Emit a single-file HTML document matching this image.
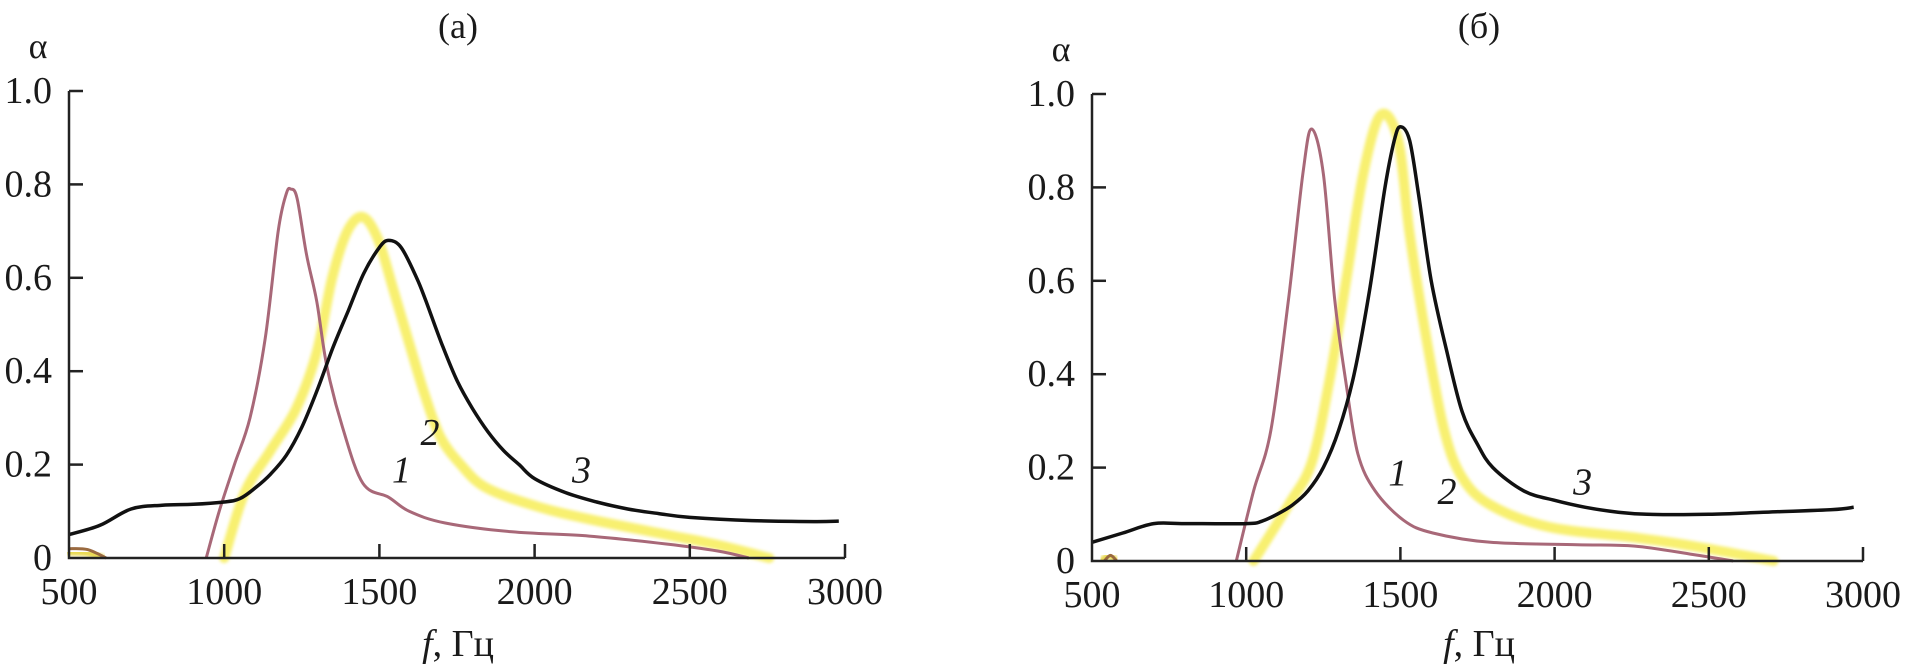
<!DOCTYPE html>
<html><head><meta charset="utf-8">
<style>
html,body{margin:0;padding:0;background:#fff;}
svg{display:block;}
text{font-family:"Liberation Serif",serif;fill:#1a1a1a;}
</style></head>
<body>
<svg id="s" width="1905" height="671" viewBox="0 0 1905 671" xmlns="http://www.w3.org/2000/svg">
<defs><filter id="bl" x="-5%" y="-5%" width="110%" height="110%"><feGaussianBlur stdDeviation="1.6"/></filter></defs>
<g id="g"></g>
</svg>
<script>
var NS="http://www.w3.org/2000/svg",g=document.getElementById('g');
function el(t,a,txt){var e=document.createElementNS(NS,t);for(var k in a)e.setAttribute(k,a[k]);if(txt!==undefined)e.textContent=txt;g.appendChild(e);return e;}
function panel(P){
 var X=function(f){return P.x0+(f-500)*(P.x1-P.x0)/2500;};
 var Y=function(a){return P.y0-a*(P.y0-P.y1);};
 function path(d){var pts=d.map(function(p){return [X(p[0]),Y(p[1])];});
  var s="M"+pts[0][0].toFixed(1)+","+pts[0][1].toFixed(1);
  for(var i=0;i<pts.length-1;i++){var p0=pts[Math.max(0,i-1)],p1=pts[i],p2=pts[i+1],p3=pts[Math.min(pts.length-1,i+2)];
   var c1x=p1[0]+(p2[0]-p0[0])/6,c1y=p1[1]+(p2[1]-p0[1])/6,c2x=p2[0]-(p3[0]-p1[0])/6,c2y=p2[1]-(p3[1]-p1[1])/6;
   s+="C"+c1x.toFixed(1)+","+c1y.toFixed(1)+" "+c2x.toFixed(1)+","+c2y.toFixed(1)+" "+p2[0].toFixed(1)+","+p2[1].toFixed(1);}
  return s;}
 el('path',{d:path(P.c2),fill:'none',stroke:'#f8f070',"stroke-width":10,"stroke-linejoin":"round","stroke-linecap":"round",filter:"url(#bl)"});
 el('path',{d:path(P.c2b),fill:'none',stroke:'#e8d84a',"stroke-width":6,"stroke-linecap":"round",filter:"url(#bl)"});
 el('path',{d:path(P.c1),fill:'none',stroke:'#a86878',"stroke-width":3,"stroke-linejoin":"round"});
 el('path',{d:path(P.c1b),fill:'none',stroke:'#9a6a40',"stroke-width":3});
 el('path',{d:path(P.c3),fill:'none',stroke:'#111',"stroke-width":3.5,"stroke-linejoin":"round"});
 el('path',{d:"M"+P.x0+","+P.y1+"V"+P.y0+"H"+P.x1,fill:'none',stroke:'#222',"stroke-width":2.5});
 for(var i=0;i<=5;i++){var y=Y(i*0.2);
  if(i>0)el('line',{x1:P.x0,y1:y,x2:P.x0+14,y2:y,stroke:'#222',"stroke-width":2.5});
  el('text',{x:P.x0-17,y:y+12,"text-anchor":"end","font-size":38},i==0?"0":(i==5?"1.0":(i*0.2).toFixed(1)));}
 for(var f=500;f<=3000;f+=500){var x=X(f);
  if(f>500)el('line',{x1:x,y1:P.y0,x2:x,y2:P.y0-14,stroke:'#222',"stroke-width":2.5});
  el('text',{x:x,y:P.y0+46,"text-anchor":"middle","font-size":38},String(f));}
 el('text',{x:P.x0-31,y:P.y1-33,"text-anchor":"middle","font-size":36},"α");
 el('text',{x:P.tx,y:38,"text-anchor":"middle","font-size":36},P.title);
 var t=el('text',{x:P.tx,y:656,"text-anchor":"middle","font-size":38});
 t.innerHTML='<tspan font-style="italic">f</tspan>, Гц';
 P.lab.forEach(function(l){el('text',{x:X(l[0]),y:Y(l[1])+13,"text-anchor":"middle","font-size":38,"font-style":"italic"},l[2]);});
}
panel({x0:69,x1:845,y0:558,y1:91,tx:458,title:"(а)",
 c1:[[942,0],[984,0.1],[1033,0.2],[1083,0.3],[1132,0.47],[1174,0.7],[1200,0.78],[1215,0.79],[1235,0.77],[1265,0.65],[1298,0.55],[1331,0.41],[1381,0.28],[1447,0.16],[1530,0.13],[1596,0.1],[1712,0.075],[1927,0.056],[2176,0.047],[2424,0.03],[2590,0.015],[2690,0]],
 c1b:[[500,0.02],[560,0.018],[620,0]],
 c2:[[1000,0],[1066,0.14],[1149,0.23],[1232,0.32],[1298,0.44],[1348,0.6],[1397,0.7],[1447,0.73],[1497,0.68],[1547,0.57],[1596,0.46],[1646,0.35],[1696,0.26],[1762,0.2],[1845,0.15],[2010,0.11],[2176,0.083],[2424,0.05],[2590,0.028],[2756,0]],
 c2b:[[500,0.012],[560,0.01],[610,0]],
 c3:[[500,0.05],[600,0.07],[700,0.105],[800,0.113],[900,0.115],[1000,0.12],[1050,0.127],[1100,0.15],[1150,0.18],[1200,0.22],[1250,0.28],[1300,0.36],[1350,0.45],[1400,0.53],[1450,0.61],[1500,0.665],[1530,0.68],[1570,0.665],[1620,0.6],[1650,0.55],[1700,0.46],[1750,0.38],[1800,0.32],[1850,0.27],[1900,0.23],[1950,0.2],[2000,0.17],[2100,0.14],[2200,0.12],[2300,0.105],[2400,0.095],[2500,0.087],[2700,0.08],[2900,0.078],[2980,0.079]],
 lab:[[1571,0.19,"1"],[1663,0.27,"2"],[2151,0.19,"3"]]});
panel({x0:1092,x1:1863,y0:561,y1:94,tx:1479,title:"(б)",
 c1:[[968,0],[1024,0.15],[1080,0.28],[1137,0.56],[1184,0.83],[1212,0.925],[1250,0.83],[1287,0.56],[1324,0.38],[1362,0.23],[1418,0.15],[1511,0.087],[1605,0.06],[1792,0.04],[2073,0.035],[2260,0.032],[2448,0.014],[2579,0]],
 c1b:[[540,0],[560,0.012],[580,0]],
 c2:[[1024,0],[1137,0.12],[1212,0.21],[1268,0.38],[1324,0.6],[1380,0.83],[1436,0.955],[1493,0.9],[1530,0.7],[1586,0.47],[1642,0.28],[1699,0.18],[1792,0.12],[1980,0.073],[2260,0.05],[2448,0.032],[2710,0]],
 c2b:[[530,0],[555,0.012],[580,0]],
 c3:[[500,0.04],[600,0.06],[700,0.08],[800,0.08],[1000,0.08],[1050,0.085],[1100,0.1],[1150,0.12],[1200,0.15],[1250,0.2],[1300,0.28],[1350,0.4],[1400,0.58],[1450,0.8],[1480,0.9],[1500,0.93],[1530,0.9],[1560,0.78],[1600,0.6],[1650,0.45],[1700,0.32],[1750,0.25],[1800,0.2],[1900,0.15],[2000,0.13],[2100,0.115],[2200,0.105],[2300,0.1],[2500,0.1],[2700,0.105],[2900,0.11],[2970,0.115]],
 lab:[[1492,0.19,"1"],[1651,0.15,"2"],[2091,0.17,"3"]]});
</script>
</body></html>
